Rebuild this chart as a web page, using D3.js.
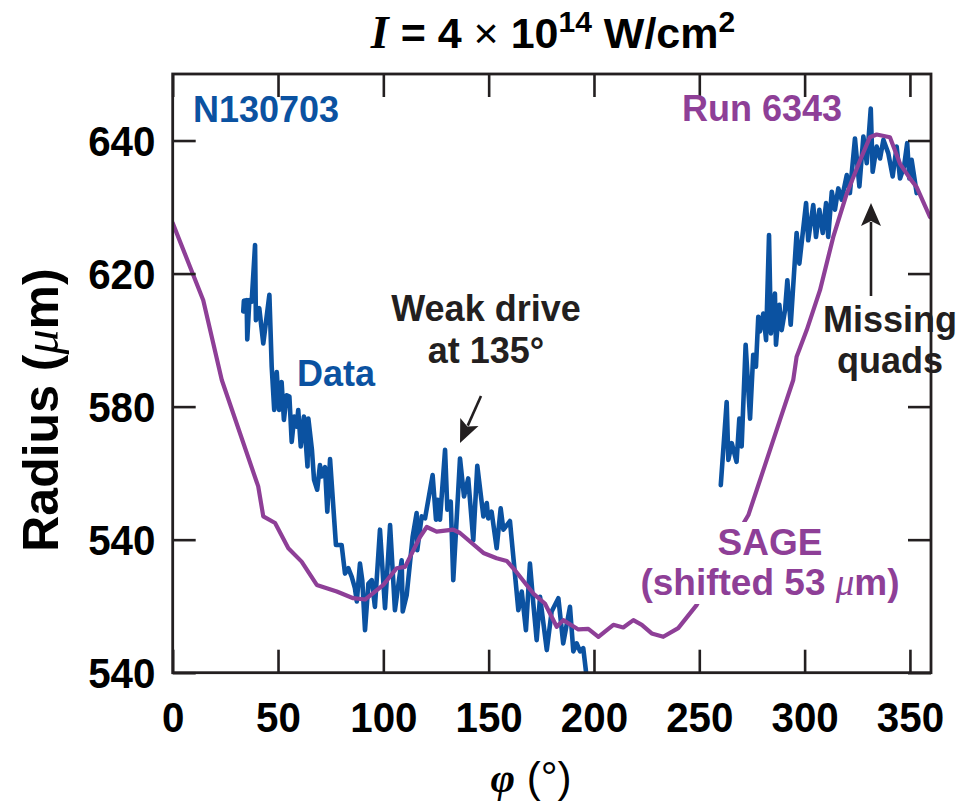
<!DOCTYPE html>
<html><head><meta charset="utf-8">
<script src="https://cdn.jsdelivr.net/npm/d3@7"></script>
<style>html,body{margin:0;padding:0;background:#fff;}</style>
</head><body>
<svg id="chart" width="973" height="808"></svg>
<script>
// ---------- DATA ----------
const xTicks = [0, 50, 100, 150, 200, 250, 300, 350];
const xTickLabels = ["0", "50", "100", "150", "200", "250", "300", "350"];
const yTicks = [560, 580, 600, 620, 640];
const yTickLabels = ["540", "540", "580", "620", "640"];

// Measured data N130703, segment 1
const dataPhi1 = [33.5,33.8,35.1,35.4,36.4,37.5,39.1,39.5,41.1,43.0,45.9,47.0,48.2,49.4,50.5,51.7,52.8,54.1,55.4,56.5,57.7,58.9,59.6,60.8,62.3,64.0,64.4,66.1,67.1,68.6,69.9,70.7,72.3,73.4,74.7,77.5,80.2,81.8,83.4,85.0,86.5,87.4,88.9,90.0,91.3,92.9,94.5,96.0,98.4,100.8,103.2,105.5,108.7,109.2,111.1,113.9,115.8,116.1,118.2,119.8,123.4,125.0,125.8,126.9,129.3,130.4,132.0,133.2,136.4,138.3,140.3,142.7,144.6,147.5,149.1,149.8,151.4,153.8,155.7,157.0,160.1,164.1,165.7,167.7,169.6,171.2,172.8,174.4,177.6,179.9,183.1,185.4,188.6,190.2,191.8,193.4,194.9,196.2];
const dataR1 = [614.3,615.9,616.0,610.1,616.0,615.8,624.3,613.0,614.8,609.5,616.8,606.0,599.5,605.2,599.5,603.7,598.0,601.7,601.5,594.7,598.5,597.0,599.5,594.0,598.5,591.0,598.2,593.5,589.0,587.5,591.2,589.5,590.9,584.2,592.1,579.2,579.2,574.9,575.7,574.4,572.7,570.7,576.4,573.9,566.4,573.4,573.9,569.9,581.5,569.7,582.2,569.4,576.9,569.2,571.7,580.4,584.0,578.4,583.5,583.2,589.7,583.0,586.0,583.0,593.5,584.5,585.7,573.9,592.2,586.5,589.2,579.9,591.1,583.5,585.5,583.2,584.2,578.7,584.7,581.5,582.8,569.4,572.2,566.4,576.4,570.4,564.9,571.4,563.4,569.2,571.2,564.4,569.9,563.2,564.4,563.2,563.7,560.2];

// Measured data N130703, segment 2
const dataPhi2 = [260.2,263.0,263.8,265.4,267.7,269.0,270.1,272.0,274.1,275.6,276.9,278.0,278.8,280.4,281.7,283.1,284.0,285.9,286.4,288.0,289.1,290.7,291.8,293.4,296.2,297.5,300.7,301.7,304.1,305.4,307.0,308.6,310.2,311.2,312.9,314.4,316.0,317.6,320.0,321.5,323.9,326.0,327.9,329.5,331.4,332.3,334.2,335.8,337.4,339.7,341.8,343.7,345.3,347.2,348.7,349.7,350.8,353.2];
const dataR2 = [588.2,600.7,592.0,594.5,591.7,598.2,594.0,609.3,598.2,607.8,606.0,613.5,611.3,614.0,610.0,625.8,611.0,617.0,609.3,615.3,611.5,614.5,619.0,612.3,626.1,621.5,630.6,625.0,630.3,625.5,629.6,626.1,630.6,625.5,632.3,629.6,632.8,631.1,634.8,632.1,640.3,633.1,640.6,636.6,644.8,635.3,639.1,637.3,640.1,638.1,634.6,639.1,634.3,636.1,639.6,634.3,637.1,632.1];

// SAGE simulation (Run 6343, shifted 53 um)
const sagePhi = [0,14.5,23.3,40.6,43.0,48.6,54.9,61.2,68.4,77.9,85.7,91.3,100.0,106.3,110.3,117.4,120.6,125.3,133.2,136.4,147.5,153.8,158.6,162.5,171.2,176.7,182.3,185.4,192.6,197.3,202.1,209.2,213.9,218.7,222.7,227.4,232.9,240.0,248.8,258.0,273.3,277.3,288.3,294.6,296.2,301.0,307.3,313.6,320.0,326.3,331.0,334.2,340.5,345.3,350.0,353.2,359.5];
const sageR = [627.6,616.0,604.0,588.0,583.5,582.5,578.7,576.7,573.2,572.2,571.2,571.0,573.2,575.7,575.9,580.4,581.9,581.2,581.5,581.0,578.0,577.2,576.8,575.4,571.9,570.4,566.9,567.9,566.5,566.6,565.4,567.2,566.8,567.9,567.2,565.9,565.4,566.7,570.2,575.5,583.7,587.5,598.0,604.0,607.5,611.5,617.5,625.5,632.0,637.0,640.5,640.9,640.5,636.5,634.3,633.0,628.5];

// ---------- CHART ----------
const BLUE = "#0b52a1", PURPLE = "#8e3f97", INK = "#231f20";
const SANS = "'Liberation Sans', Arial, Helvetica, sans-serif";
const SERIF = "'Liberation Serif', 'Times New Roman', serif";

const svg = d3.select("#chart");
const L = 172.7, R = 931, T = 74, B = 672.7;
const x = d3.scaleLinear().domain([0, 360]).range([L, R]);
const y = d3.scaleLinear().domain([560, 650]).range([B, T]);

const plot = svg.append("g");

const line = d3.line().x(d => x(d[0])).y(d => y(d[1]));
const seg1 = d3.zip(dataPhi1, dataR1), seg2 = d3.zip(dataPhi2, dataR2), sage = d3.zip(sagePhi, sageR);

plot.append("defs").append("clipPath").attr("id", "clip")
  .append("rect").attr("x", L).attr("y", T).attr("width", R - L).attr("height", B - T);

const lines = plot.append("g").attr("clip-path", "url(#clip)");
[seg1, seg2].forEach(s => lines.append("path").datum(s).attr("d", line)
  .attr("fill", "none").attr("stroke", BLUE).attr("stroke-width", 4.6)
  .attr("stroke-linejoin", "round").attr("stroke-linecap", "round"));
lines.append("path").datum(sage).attr("d", line)
  .attr("fill", "none").attr("stroke", PURPLE).attr("stroke-width", 4.2)
  .attr("stroke-linejoin", "round").attr("stroke-linecap", "round");

// axes (inward ticks on all sides)
const tickLen = 23;
function styleAxis(g) {
  g.select(".domain").remove();
  g.selectAll(".tick line").attr("stroke", INK).attr("stroke-width", 2.6);
}
plot.append("g").attr("transform", `translate(0,${B})`)
  .call(d3.axisBottom(x).tickValues(xTicks).tickSize(-tickLen).tickFormat((d, i) => xTickLabels[i]))
  .call(styleAxis)
  .call(g => g.selectAll(".tick text").attr("y", 59).attr("dy", null)
    .attr("transform", "scale(0.96,1)")
    .attr("font-family", SANS).attr("font-weight", "bold").attr("font-size", 42).attr("fill", "#000"));
plot.append("g").attr("transform", `translate(0,${T})`)
  .call(d3.axisTop(x).tickValues(xTicks).tickSize(-tickLen).tickFormat(""))
  .call(styleAxis);
plot.append("g").attr("transform", `translate(${L},0)`)
  .call(d3.axisLeft(y).tickValues(yTicks).tickSize(-tickLen).tickFormat((d, i) => yTickLabels[i]))
  .call(styleAxis)
  .call(g => g.selectAll(".tick text").attr("x", -18).attr("dy", "0.36em")
    .attr("transform", "scale(0.96,1)")
    .attr("font-family", SANS).attr("font-weight", "bold").attr("font-size", 42).attr("fill", "#000"));
plot.append("g").attr("transform", `translate(${R},0)`)
  .call(d3.axisRight(y).tickValues(yTicks).tickSize(-tickLen).tickFormat(""))
  .call(styleAxis);

plot.append("rect").attr("x", L).attr("y", T).attr("width", R - L).attr("height", B - T)
  .attr("fill", "none").attr("stroke", INK).attr("stroke-width", 2.8);

// title
const title = svg.append("text").attr("transform", "translate(553,48)")
  .attr("text-anchor", "middle").attr("font-family", SANS).attr("font-weight", "bold")
  .attr("font-size", 43).attr("fill", "#000");
title.append("tspan").attr("font-family", SERIF).attr("font-style", "italic").attr("font-size", 46).text("I");
title.append("tspan").text(" = 4 ");
title.append("tspan").attr("font-weight", "normal").text("\u00d7");
title.append("tspan").text(" 10");
title.append("tspan").attr("dy", -16).attr("font-size", 30).text("14");
title.append("tspan").attr("dy", 16).text(" W/cm");
title.append("tspan").attr("dy", -16).attr("font-size", 30).text("2");

// axis titles
const xt = svg.append("text").attr("transform", "translate(531,792)")
  .attr("text-anchor", "middle").attr("font-size", 42).attr("fill", "#000");
xt.append("tspan").attr("font-family", SERIF).attr("font-style", "italic").attr("font-weight", "bold").text("\u03c6");
xt.append("tspan").attr("font-family", SANS).text(" (\u00b0)");

const yt = svg.append("text").attr("transform", "translate(58,410) rotate(-90)")
  .attr("text-anchor", "middle").attr("font-family", SANS).attr("font-weight", "bold")
  .attr("font-size", 50).attr("fill", "#000");
yt.append("tspan").text("Radius (");
yt.append("tspan").attr("font-family", SERIF).attr("font-style", "italic").attr("font-weight", "normal").text("\u03bc");
yt.append("tspan").text("m)");

// annotations
function label(txt, xx, yy, color, anchor, fs) {
  return svg.append("text").attr("x", xx).attr("y", yy).attr("text-anchor", anchor || "start")
    .attr("font-family", SANS).attr("font-weight", "bold").attr("font-size", fs || 36)
    .attr("fill", color).text(txt);
}
label("N130703", 193, 122, BLUE);
label("Run 6343", 682, 121, PURPLE);
label("Data", 297, 386, BLUE);
label("Weak drive", 486, 321, "#231f20", "middle");
label("at 135\u00b0", 486, 363, "#231f20", "middle");
label("Missing", 890, 332, "#231f20", "middle");
label("quads", 890, 373, "#231f20", "middle");

// white backing for SAGE labels
svg.append("rect").attr("x", 712).attr("y", 522).attr("width", 116).attr("height", 40).attr("fill", "#fff");
svg.append("rect").attr("x", 630).attr("y", 562).attr("width", 278).attr("height", 42).attr("fill", "#fff");
label("SAGE", 770, 555, PURPLE, "middle", 37);
const sh = label("", 770, 595, PURPLE, "middle", 37);
sh.append("tspan").text("(shifted 53 ");
sh.append("tspan").attr("font-family", SERIF).attr("font-style", "italic").attr("font-weight", "normal").text("\u03bc");
sh.append("tspan").text("m)");

// arrows
function arrow(x0, y0, x1, y1) {
  const dx = x1 - x0, dy = y1 - y0, len = Math.hypot(dx, dy);
  const ux = dx / len, uy = dy / len, hl = 23, hw = 10;
  const bx = x1 - ux * hl, by = y1 - uy * hl;
  svg.append("line").attr("x1", x0).attr("y1", y0).attr("x2", bx + ux * 4).attr("y2", by + uy * 4)
    .attr("stroke", INK).attr("stroke-width", 2.6);
  svg.append("path").attr("d", `M${x1},${y1}L${bx - uy * hw},${by + ux * hw}L${bx + ux * 5},${by + uy * 5}L${bx + uy * hw},${by - ux * hw}Z`)
    .attr("fill", INK);
}
arrow(481, 396, 460, 443);
arrow(871, 296, 871, 203);
</script>
</body></html>
